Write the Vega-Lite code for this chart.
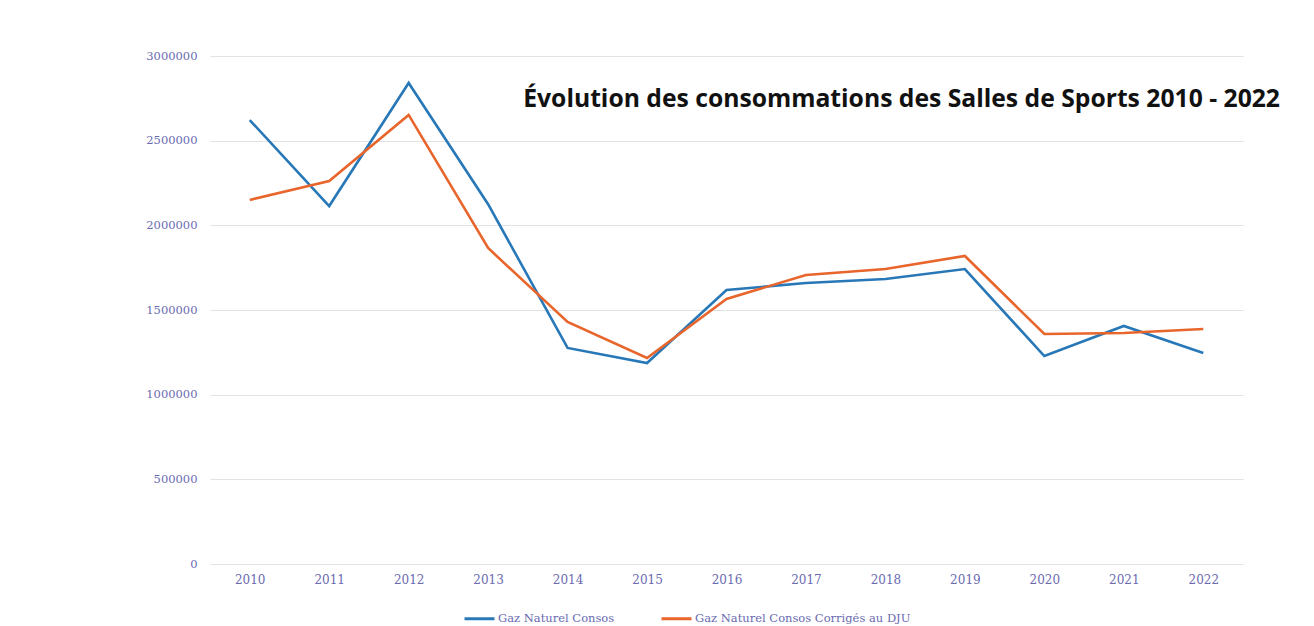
{
  "$schema": "https://vega.github.io/schema/vega-lite/v6.json",
  "width": 1033,
  "height": 508,
  "autosize": {"type": "none"},
  "padding": {"left": 210, "top": 56, "right": 71, "bottom": 62},
  "background": "white",
  "title": {
    "text": "Évolution des consommations des Salles de Sports 2010 - 2022",
    "anchor": "end",
    "frame": "group",
    "orient": "top",
    "baseline": "bottom",
    "offset": 0,
    "dx": 37,
    "dy": 87,
    "font": "Open Sans",
    "fontSize": 24.7,
    "fontWeight": "bold",
    "color": "#111111"
  },
  "data": {
    "values": [
      {"annee": "2010", "serie": "Gaz Naturel Consos", "valeur": 2622000},
      {"annee": "2011", "serie": "Gaz Naturel Consos", "valeur": 2114000},
      {"annee": "2012", "serie": "Gaz Naturel Consos", "valeur": 2841000},
      {"annee": "2013", "serie": "Gaz Naturel Consos", "valeur": 2125000},
      {"annee": "2014", "serie": "Gaz Naturel Consos", "valeur": 1276000},
      {"annee": "2015", "serie": "Gaz Naturel Consos", "valeur": 1187000},
      {"annee": "2016", "serie": "Gaz Naturel Consos", "valeur": 1618000},
      {"annee": "2017", "serie": "Gaz Naturel Consos", "valeur": 1659000},
      {"annee": "2018", "serie": "Gaz Naturel Consos", "valeur": 1683000},
      {"annee": "2019", "serie": "Gaz Naturel Consos", "valeur": 1742000},
      {"annee": "2020", "serie": "Gaz Naturel Consos", "valeur": 1228000},
      {"annee": "2021", "serie": "Gaz Naturel Consos", "valeur": 1406000},
      {"annee": "2022", "serie": "Gaz Naturel Consos", "valeur": 1246000},
      {"annee": "2010", "serie": "Gaz Naturel Consos Corrigés au DJU", "valeur": 2150000},
      {"annee": "2011", "serie": "Gaz Naturel Consos Corrigés au DJU", "valeur": 2262000},
      {"annee": "2012", "serie": "Gaz Naturel Consos Corrigés au DJU", "valeur": 2652000},
      {"annee": "2013", "serie": "Gaz Naturel Consos Corrigés au DJU", "valeur": 1866000},
      {"annee": "2014", "serie": "Gaz Naturel Consos Corrigés au DJU", "valeur": 1429000},
      {"annee": "2015", "serie": "Gaz Naturel Consos Corrigés au DJU", "valeur": 1217000},
      {"annee": "2016", "serie": "Gaz Naturel Consos Corrigés au DJU", "valeur": 1565000},
      {"annee": "2017", "serie": "Gaz Naturel Consos Corrigés au DJU", "valeur": 1707000},
      {"annee": "2018", "serie": "Gaz Naturel Consos Corrigés au DJU", "valeur": 1742000},
      {"annee": "2019", "serie": "Gaz Naturel Consos Corrigés au DJU", "valeur": 1819000},
      {"annee": "2020", "serie": "Gaz Naturel Consos Corrigés au DJU", "valeur": 1358000},
      {"annee": "2021", "serie": "Gaz Naturel Consos Corrigés au DJU", "valeur": 1364000},
      {"annee": "2022", "serie": "Gaz Naturel Consos Corrigés au DJU", "valeur": 1388000}
    ]
  },
  "mark": {"type": "line", "strokeWidth": 2.6},
  "encoding": {
    "x": {
      "field": "annee",
      "type": "ordinal",
      "scale": {"type": "point", "padding": 0.5},
      "axis": {
        "title": null,
        "labelAngle": 0,
        "domain": false,
        "ticks": false,
        "grid": false,
        "labelPadding": 10,
        "labelFont": "DejaVu Serif",
        "labelFontSize": 12,
        "labelColor": "#6a6ab0"
      }
    },
    "y": {
      "field": "valeur",
      "type": "quantitative",
      "scale": {"domain": [0, 3000000], "nice": false},
      "axis": {
        "title": null,
        "values": [0, 500000, 1000000, 1500000, 2000000, 2500000, 3000000],
        "format": "d",
        "domain": false,
        "ticks": false,
        "grid": true,
        "gridColor": "#e2e2e2",
        "gridWidth": 1.2,
        "labelPadding": 13,
        "labelFont": "DejaVu Serif",
        "labelFontSize": 11.5,
        "labelColor": "#6a6ab0"
      }
    },
    "color": {
      "field": "serie",
      "type": "nominal",
      "scale": {
        "domain": ["Gaz Naturel Consos", "Gaz Naturel Consos Corrigés au DJU"],
        "range": ["#2878b8", "#e8652c"]
      },
      "legend": {
        "title": null,
        "orient": "none",
        "direction": "horizontal",
        "legendX": 253,
        "legendY": 546,
        "symbolType": "stroke",
        "symbolSize": 900,
        "symbolStrokeWidth": 3,
        "symbolOffset": 0,
        "labelOffset": 2,
        "labelLimit": 400,
        "columnPadding": 40,
        "labelFont": "DejaVu Serif",
        "labelFontSize": 11.5,
        "labelColor": "#6a6ab0"
      }
    }
  },
  "config": {"view": {"stroke": null}}
}
